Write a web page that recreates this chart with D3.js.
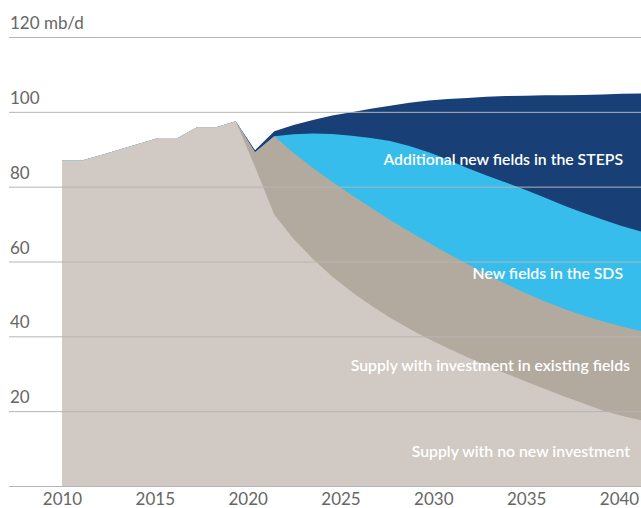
<!DOCTYPE html>
<html lang="en">
<head>
  <meta charset="UTF-8">
  <title>Oil supply scenarios</title>
  <script src="https://d3js.org/d3.v7.min.js"></script>
  <style>
    body { margin: 0; background: #fff; }
    svg { display: block; }
  </style>
</head>
<body>
<svg id="chart" width="641" height="508"></svg>
<script>
  // historical supply 2010-2019, mb/d
  const histYears = d3.range(2010, 2020)
  const history = [86.9, 86.9, 88.4, 89.9, 91.5, 93.0, 93.0, 95.9, 95.9, 97.5]

  // projections 2019-2040
  const projYears = d3.range(2019, 2041)
  const noInvestment = [97.5, 85.3, 72.5, 66.0, 60.7, 56.0, 51.9, 48.3, 45.0, 42.0, 39.3,
                        36.8, 34.4, 32.2, 30.1, 28.0, 26.0, 24.0, 22.1, 20.2, 18.8, 17.6]
  const existingFields = [97.5, 89.2, 93.5, 89.0, 85.0, 81.3, 77.8, 74.4, 71.1, 68.0, 65.0,
                          62.1, 59.3, 56.6, 54.0, 51.6, 49.4, 47.4, 45.6, 44.0, 42.6, 41.4]
  const sdsSupply = [97.5, 89.2, 93.5, 94.0, 94.2, 94.1, 93.6, 93.0, 92.2, 90.9, 89.2,
                     87.2, 85.0, 83.0, 81.1, 79.2, 77.1, 75.0, 73.0, 71.2, 69.5, 68.0]
  const stepsSupply = [97.5, 89.7, 94.8, 96.5, 97.8, 99.0, 99.9, 100.8, 101.6, 102.4, 103.0,
                       103.4, 103.7, 104.0, 104.2, 104.3, 104.4, 104.4, 104.5, 104.6, 104.8, 104.9]

  const yTicks = [20, 40, 60, 80, 100, 120]
  const xTicks = [2010, 2015, 2020, 2025, 2030, 2035, 2040]

  const layers = [
    {name: "Additional new fields in the STEPS", values: stepsSupply, color: "#193f77", lx: 623, ly: 165},
    {name: "New fields in the SDS", values: sdsSupply, color: "#36bdec", lx: 623, ly: 279},
    {name: "Supply with investment in existing fields", values: existingFields, color: "#b3aa9f", lx: 630, ly: 371},
    {name: "Supply with no new investment", values: noInvestment, color: "#d1c9c3", lx: 630, ly: 457}
  ]

  const svg = d3.select("#chart")
  const x = d3.scaleLinear().domain([2010, 2040]).range([62, 641])
  const y = d3.scaleLinear().domain([0, 120]).range([486, 37])
  // tick labels sit on their own, slightly tighter spacing
  const xLabel = d3.scaleLinear().domain([2010, 2040]).range([62, 619])

  const area = d3.area()
    .x(d => x(d[0]))
    .y0(y(0))
    .y1(d => y(d[1]))

  // history goes under every layer, so each layer = history + its projection
  layers.forEach(l => {
    const pts = histYears.map((yr, i) => [yr, history[i]])
      .concat(projYears.slice(1).map((yr, i) => [yr, l.values[i + 1]]))
    svg.append("path")
      .attr("d", area(pts))
      .attr("fill", l.color)
  })

  // gridlines on top of the areas
  svg.append("g")
    .selectAll("line")
    .data([0].concat(yTicks))
    .join("line")
      .attr("x1", 9).attr("x2", 641)
      .attr("y1", d => y(d) + 0.5).attr("y2", d => y(d) + 0.5)
      .attr("stroke", "#b5b5b5")
      .attr("stroke-width", 1)

  svg.append("g")
    .selectAll("text")
    .data(yTicks)
    .join("text")
      .attr("x", 10)
      .attr("y", d => y(d) - 8)
      .attr("fill", "#666")
      .style("font", "17px Lato, sans-serif")
      .text(d => d === 120 ? "120 mb/d" : d)

  const xAxis = d3.axisBottom(xLabel).tickValues(xTicks).tickFormat(d3.format("d")).tickSize(0).tickPadding(0)
  const gx = svg.append("g").attr("transform", "translate(0,505)").call(xAxis)
  gx.select(".domain").remove()
  gx.selectAll("text")
    .attr("dy", 0)
    .attr("fill", "#666")
    .style("font", "17px Lato, sans-serif")

  svg.append("g")
    .selectAll("text")
    .data(layers)
    .join("text")
      .attr("x", d => d.lx)
      .attr("y", d => d.ly)
      .attr("text-anchor", "end")
      .attr("fill", "#fff")
      .style("font", "600 15.8px Lato, sans-serif")
      .text(d => d.name)
</script>
</body>
</html>
